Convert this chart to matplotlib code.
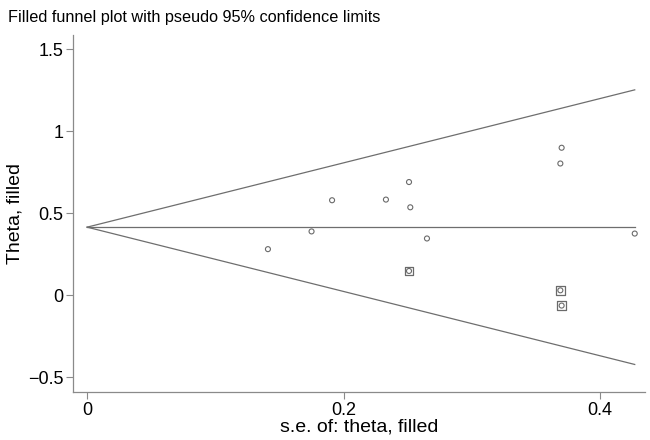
import numpy as np
import matplotlib.pyplot as plt

plt.rcParams['font.family'] = ['Liberation Sans', 'DejaVu Sans']

# observed studies
se_obs = [0.141, 0.175, 0.191, 0.233, 0.251, 0.252, 0.265, 0.370, 0.369, 0.427]
theta_obs = [0.281, 0.389, 0.579, 0.583, 0.690, 0.536, 0.346, 0.899, 0.803, 0.376]
# filled (imputed) studies
se_fill = [0.251, 0.369, 0.370]
theta_fill = [0.148, 0.030, -0.063]

theta_pooled = 0.415
se_max = 0.427

fig = plt.figure(figsize=(6.5, 4.4), dpi=100)
ax = fig.add_axes([0.1123, 0.109, 0.88, 0.811])

lc = '#6e6e6e'
se_line = np.array([0, se_max])
ax.plot(se_line, theta_pooled + 1.96 * se_line, color=lc, lw=0.9)
ax.plot(se_line, theta_pooled - 1.96 * se_line, color=lc, lw=0.9)
ax.plot(se_line, [theta_pooled, theta_pooled], color=lc, lw=0.9)

# filled studies: square around the circle
ax.scatter(se_fill, theta_fill, marker='s', s=40, facecolors='none',
           edgecolors='#6a6a6a', linewidths=0.9, zorder=3)
ax.scatter(se_obs + se_fill, theta_obs + theta_fill, marker='o', s=13,
           facecolors='none', edgecolors='#6a6a6a', linewidths=0.8, zorder=4)

ax.set_xlim(-0.011, 0.435)
ax.set_ylim(-0.59, 1.585)
ax.set_xticks([0, 0.2, 0.4])
ax.set_xticklabels(['0', '0.2', '0.4'])
ax.set_yticks([-0.5, 0, 0.5, 1, 1.5])
ax.set_yticklabels(['\u22120.5', '0', '0.5', '1', '1.5'])

for s in ['top', 'right']:
    ax.spines[s].set_visible(False)
for s in ['left', 'bottom']:
    ax.spines[s].set_color('#8a8a8a')
    ax.spines[s].set_linewidth(0.9)
ax.tick_params(direction='out', length=5, width=0.8, color='#8a8a8a',
               labelsize=13, pad=2)

ax.set_xlabel('s.e. of: theta, filled', fontsize=14, labelpad=0)
ax.set_ylabel('Theta, filled', fontsize=14, labelpad=3)
fig.text(0.012, 0.96, 'Filled funnel plot with pseudo 95% confidence limits',
         fontsize=11.7, ha='left', va='center')

fig.savefig('out.png', dpi=100)
